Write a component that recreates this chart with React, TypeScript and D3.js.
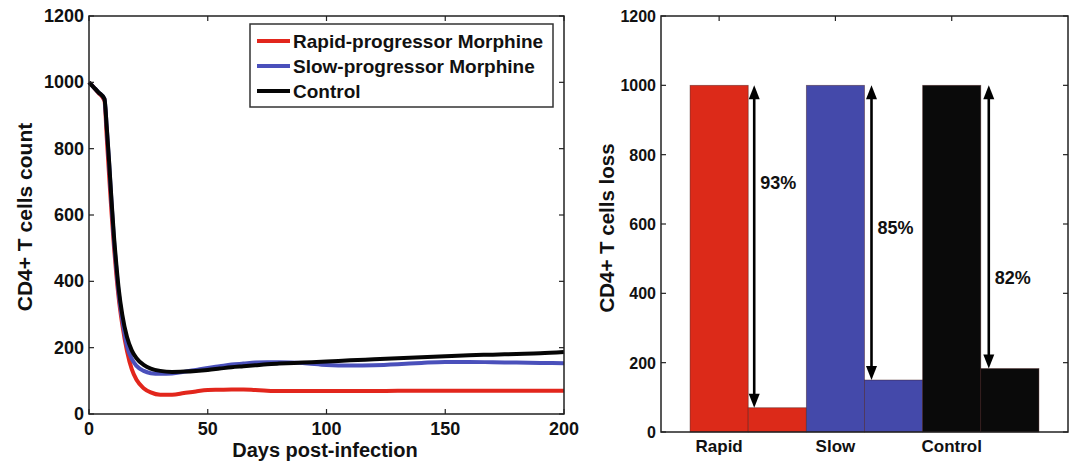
import React from "react";
import * as d3 from "d3";

// time course (days post-infection) and CD4+ counts per group
const days = [0, 2, 4, 6.5, 7.5, 8.5, 9.5, 10.5, 11.5, 12.5, 14, 16, 18, 20, 23, 26, 30, 35, 40, 45, 50, 55, 60, 65, 70, 75, 80, 90, 100, 110, 120, 130, 140, 150, 160, 170, 180, 190, 200];
const rapid = [1000, 985, 968, 945, 830, 715, 605, 505, 420, 350, 270, 190, 135, 103, 78, 65, 58, 58, 63, 68, 72, 73, 74, 74, 72, 70, 69, 69, 69, 69, 69, 70, 70, 70, 70, 70, 70, 70, 70];
const slow = [1000, 985, 970, 950, 860, 752, 635, 525, 440, 365, 285, 205, 166, 145, 130, 123, 121, 122, 127, 133, 139, 144, 149, 152, 155, 156, 156, 154, 148, 146, 147, 150, 154, 157, 157, 156, 155, 154, 153];
const control = [1000, 985, 970, 950, 862, 757, 642, 537, 452, 378, 300, 232, 192, 168, 148, 137, 130, 127, 128, 130, 133, 137, 141, 144, 147, 150, 152, 155, 158, 162, 165, 168, 171, 174, 177, 179, 181, 183, 187];

const seriesNames = ["Rapid-progressor Morphine", "Slow-progressor Morphine", "Control"];
const lineColors = ["#e2261c", "#4a50bb", "#050505"];

const xTicksLeft = [0, 50, 100, 150, 200];
const yTicks = [0, 200, 400, 600, 800, 1000, 1200];

// bar chart: before / after per group
const groups = ["Rapid", "Slow", "Control"];
const before = [1000, 1000, 1000];
const after = [70, 150, 183];
const lossLabels = ["93%", "85%", "82%"];
const lossLabelAt = [720, 590, 447];
const barColors = ["#dc2a19", "#4449aa", "#0a0a0a"];

const font = "'Liberation Sans', Arial, Helvetica, sans-serif";

const LineChart = () => {
  const x = d3.scaleLinear().domain([0, 200]).range([89, 564]);
  const y = d3.scaleLinear().domain([0, 1200]).range([414, 16]);
  const line = d3
    .line<number>()
    .x((_, i) => x(days[i]))
    .y((v) => y(v))
    .curve(d3.curveMonotoneX);
  const all = [rapid, slow, control];
  const [x0, x1] = x.range();
  const [y0, y1] = y.range();

  return (
    <g fontFamily={font} fontWeight="bold" fill="#111">
      {all.map((s, i) => (
        <path key={i} d={line(s) || ""} fill="none" stroke={lineColors[i]} strokeWidth={4} strokeLinejoin="round" />
      ))}
      <rect x={x0} y={y1} width={x1 - x0} height={y0 - y1} fill="none" stroke="#222" strokeWidth={1.5} />
      {xTicksLeft.map((t) => (
        <g key={t}>
          <line x1={x(t)} x2={x(t)} y1={y0} y2={y0 - 5} stroke="#222" strokeWidth={1.2} />
          <line x1={x(t)} x2={x(t)} y1={y1} y2={y1 + 5} stroke="#222" strokeWidth={1.2} />
          <text x={x(t)} y={435} textAnchor="middle" fontSize={18}>{t}</text>
        </g>
      ))}
      {yTicks.map((t) => (
        <g key={t}>
          <line x1={x0} x2={x0 + 5} y1={y(t)} y2={y(t)} stroke="#222" strokeWidth={1.2} />
          <line x1={x1} x2={x1 - 5} y1={y(t)} y2={y(t)} stroke="#222" strokeWidth={1.2} />
          <text x={x0 - 5} y={y(t) + 6} textAnchor="end" fontSize={18}>{t}</text>
        </g>
      ))}
      <text x={325} y={457} textAnchor="middle" fontSize={20}>Days post-infection</text>
      <text transform="translate(32,217) rotate(-90)" textAnchor="middle" fontSize={21}>CD4+ T cells count</text>
      <g>
        <rect x={250} y={24} width={303} height={83} fill="#fff" stroke="#333" strokeWidth={1.5} />
        {seriesNames.map((n, i) => (
          <g key={n} transform={`translate(0,${41 + i * 25})`}>
            <line x1={257} x2={290} y1={0} y2={0} stroke={lineColors[i]} strokeWidth={4} />
            <text x={293} y={7} fontSize={19}>{n}</text>
          </g>
        ))}
      </g>
    </g>
  );
};

const BarChart = () => {
  const x = d3.scaleLinear().domain([0, 7]).range([661, 1068]);
  const y = d3.scaleLinear().domain([0, 1200]).range([432, 16]);
  const [x0, x1] = x.range();
  const [y0, y1] = y.range();
  const bars = groups.flatMap((g, i) => [
    { pos: i * 2 + 1, value: before[i], color: barColors[i] },
    { pos: i * 2 + 2, value: after[i], color: barColors[i] },
  ]);
  const w = x(1) - x(0);

  return (
    <g fontFamily={font} fontWeight="bold" fill="#111">
      {bars.map((b, i) => (
        <rect key={i} x={x(b.pos - 0.5)} y={y(b.value)} width={w} height={y(0) - y(b.value)} fill={b.color} stroke="#3a1010" strokeOpacity={0.5} strokeWidth={0.8} />
      ))}
      {groups.map((g, i) => {
        const ax = x(i * 2 + 1.5) + 6 + i;
        const top = y(before[i]);
        const bot = y(after[i]);
        return (
          <g key={g}>
            <line x1={ax} x2={ax} y1={top + 10} y2={bot - 10} stroke="#000" strokeWidth={2.6} />
            <path d={`M${ax},${top} l-5.5,14 l11,0 z`} fill="#000" />
            <path d={`M${ax},${bot} l-5.5,-14 l11,0 z`} fill="#000" />
            <text x={ax + 6} y={y(lossLabelAt[i]) + 7} fontSize={18}>{lossLabels[i]}</text>
          </g>
        );
      })}
      <rect x={x0} y={y1} width={x1 - x0} height={y0 - y1} fill="none" stroke="#222" strokeWidth={1.5} />
      {groups.map((g, i) => (
        <g key={g}>
          <line x1={x(i * 2 + 1)} x2={x(i * 2 + 1)} y1={y1} y2={y1 + 5} stroke="#222" strokeWidth={1.2} />
          <text x={x(i * 2 + 1)} y={452} textAnchor="middle" fontSize={17}>{g}</text>
        </g>
      ))}
      {yTicks.map((t) => (
        <g key={t}>
          <line x1={x0} x2={x0 + 5} y1={y(t)} y2={y(t)} stroke="#222" strokeWidth={1.2} />
          <line x1={x1} x2={x1 - 5} y1={y(t)} y2={y(t)} stroke="#222" strokeWidth={1.2} />
          <text x={x0 - 5} y={y(t) + 6} textAnchor="end" fontSize={16}>{t}</text>
        </g>
      ))}
      <text transform="translate(614,228) rotate(-90)" textAnchor="middle" fontSize={20.5}>CD4+ T cells loss</text>
    </g>
  );
};

export default function App() {
  return (
    <div style={{ position: "absolute", left: 0, top: 0 }}>
      <svg width={1078} height={462} style={{ display: "block", background: "#fff" }}>
        <LineChart />
        <BarChart />
      </svg>
    </div>
  );
}
